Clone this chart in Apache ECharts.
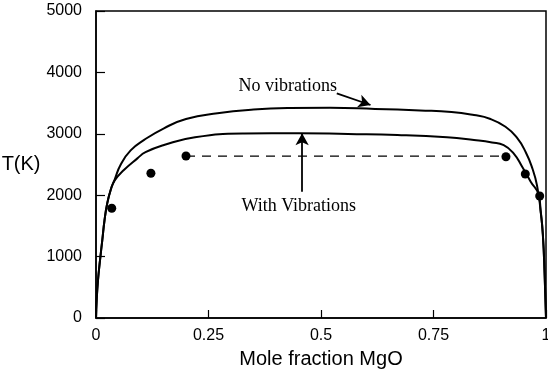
<!DOCTYPE html>
<html>
<head>
<meta charset="utf-8">
<script src="https://cdn.jsdelivr.net/npm/echarts@6.0.0/dist/echarts.min.js"></script>
<style>
  html, body { margin: 0; padding: 0; background: #fff; }
  #chart { width: 548px; height: 373px; }
</style>
</head>
<body>
<div id="chart"></div>
<script>
// [mole fraction MgO, T(K)]
var noVibrations = [
  [0, 0], [0.0015, 290], [0.0045, 620], [0.009, 945], [0.014, 1270], [0.019, 1596],
  [0.025, 1868], [0.0326, 2085], [0.0415, 2255], [0.055, 2500], [0.077, 2730], [0.107, 2900],
  [0.151, 3090], [0.2, 3240], [0.27, 3335], [0.35, 3395], [0.43, 3420],
  [0.52, 3425], [0.62, 3405], [0.72, 3380], [0.79, 3355], [0.84, 3305], [0.875, 3245],
  [0.91, 3115], [0.935, 2940], [0.955, 2700], [0.97, 2430], [0.98, 2160], [0.988, 1750],
  [0.993, 1360], [0.997, 700], [1, 0]
];
var withVibrations = [
  [0, 0], [0.0015, 290], [0.0045, 620], [0.009, 945], [0.014, 1270], [0.019, 1596],
  [0.025, 1868], [0.0326, 2085], [0.0415, 2240], [0.062, 2410], [0.092, 2600], [0.11, 2700],
  [0.151, 2818], [0.22, 2945], [0.33, 3005], [0.45, 3010], [0.56, 2997], [0.67, 2980],
  [0.78, 2942], [0.84, 2899], [0.88, 2860], [0.906, 2815], [0.928, 2682], [0.947, 2464],
  [0.966, 2220], [0.984, 2003], [0.988, 1750], [0.993, 1360], [0.997, 700], [1, 0]
];
var measured = [[0.035, 1787], [0.122, 2357], [0.2, 2638], [0.911, 2627], [0.954, 2345], [0.986, 1987]];
var eutecticLine = [[0.2, 2638], [0.911, 2638]];

var xTicks = [0, 0.25, 0.5, 0.75, 1];
var yTicks = [0, 1000, 2000, 3000, 4000, 5000];

var chart = echarts.init(document.getElementById('chart'), null, { renderer: 'canvas' });

var tickFont = { color: '#000', fontSize: 16, fontFamily: 'Liberation Sans' };
var noteFont = { color: '#000', fontSize: 18, fontFamily: 'Liberation Serif' };

var option = {
  animation: false,
  grid: {
    left: 96, right: 2, top: 11, bottom: 55,
    outerBoundsMode: 'none', containLabel: false,
    show: true, borderColor: '#000', borderWidth: 1.5
  },
  xAxis: {
    type: 'value',
    min: xTicks[0], max: xTicks[xTicks.length - 1], interval: 0.25,
    name: 'Mole fraction MgO',
    nameLocation: 'middle', nameGap: 31,
    nameTextStyle: { color: '#000', fontSize: 20, fontFamily: 'Liberation Sans' },
    axisLine: { lineStyle: { color: '#000', width: 1.5 } },
    axisTick: { inside: true, length: 8, lineStyle: { color: '#000', width: 1.2 } },
    axisLabel: Object.assign({ margin: 10, formatter: function (v) { return String(v); } }, tickFont),
    splitLine: { show: false }
  },
  yAxis: {
    type: 'value',
    min: yTicks[0], max: yTicks[yTicks.length - 1], interval: 1000,
    name: 'T(K)',
    nameLocation: 'middle', nameRotate: 0, nameGap: 39,
    nameTextStyle: { color: '#000', fontSize: 20, fontFamily: 'Liberation Sans' },
    axisLine: { lineStyle: { color: '#000', width: 1.5 } },
    axisTick: { inside: true, length: 9, lineStyle: { color: '#000', width: 1.2 } },
    axisLabel: Object.assign({ margin: 14, formatter: function (v) { return String(v); } }, tickFont),
    splitLine: { show: false }
  },
  series: [
    {
      name: 'No vibrations', type: 'line', data: noVibrations,
      showSymbol: false, smooth: 0.5,
      lineStyle: { color: '#000', width: 2 },
      markPoint: {
        symbol: 'circle', symbolSize: 0,
        label: Object.assign({ show: true, position: 'inside', formatter: 'No vibrations' }, noteFont),
        data: [{ coord: [0.426, 3767] }]
      },
      markLine: {
        silent: true, symbol: ['none', 'arrow'], symbolSize: [10, 12],
        label: { show: false },
        lineStyle: { color: '#000', width: 1.8, type: 'solid' },
        data: [[{ coord: [0.535, 3660] }, { coord: [0.61, 3469] }]]
      }
    },
    {
      name: 'With Vibrations', type: 'line', data: withVibrations,
      showSymbol: false, smooth: 0.5,
      lineStyle: { color: '#000', width: 2 },
      markPoint: {
        symbol: 'circle', symbolSize: 0,
        label: Object.assign({ show: true, position: 'inside', formatter: 'With Vibrations' }, noteFont),
        data: [{ coord: [0.4505, 1813] }]
      },
      markLine: {
        silent: true, symbol: ['none', 'arrow'], symbolSize: [10, 12],
        label: { show: false },
        lineStyle: { color: '#000', width: 1.8, type: 'solid' },
        data: [[{ coord: [0.458, 2057] }, { coord: [0.458, 3008] }]]
      }
    },
    {
      name: 'eutectic', type: 'line', data: eutecticLine,
      showSymbol: false,
      lineStyle: { color: '#000', width: 1.3, type: [9, 7] }
    },
    {
      name: 'measured', type: 'scatter', data: measured,
      symbol: 'circle', symbolSize: 9,
      itemStyle: { color: '#000', opacity: 1 }
    }
  ]
};

chart.setOption(option);
</script>
</body>
</html>
